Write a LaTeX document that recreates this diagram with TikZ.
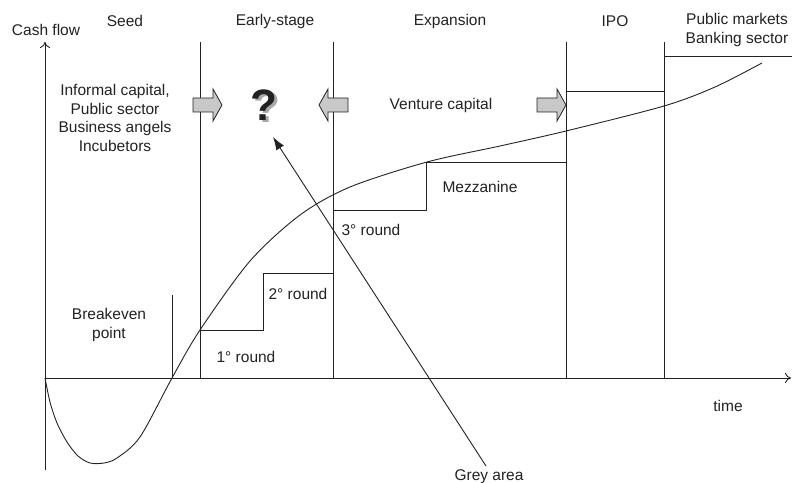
\documentclass[tikz,border=0pt]{standalone}
\usepackage{fontspec}
\setmainfont{Liberation Sans}
\usetikzlibrary{arrows.meta}
\definecolor{ink}{HTML}{222222}
\definecolor{blockgrey}{HTML}{C8C8C8}
\definecolor{shadowgrey}{HTML}{A8A8A8}
\begin{document}
\begin{tikzpicture}[x=1bp,y=-1bp,
  lbl/.style={text=ink,font=\fontsize{15.5bp}{18.5bp}\selectfont,inner sep=0pt,align=center},
  ln/.style={draw=ink,line width=0.9bp},
  blockarrow/.style={draw=ink,line width=0.8bp,fill=blockgrey},
  axisarrow/.style={ln,-{To[length=6bp,width=10bp]}}]
\useasboundingbox (0,0) rectangle (792,483);
% axes
\coordinate (origin) at (45,378);
\coordinate (ytop) at (45,42);
\coordinate (ybot) at (45,470);
\coordinate (xend) at (791,378);
\draw[axisarrow] (ybot) -- (ytop);
\draw[axisarrow] (origin) -- (xend);
% stage dividers
\foreach \n/\x in {a/200,b/333,c/566,d/664}{
  \coordinate (\n top) at (\x,42);
  \coordinate (\n bot) at (\x,378);
  \draw[ln] (\n top) -- (\n bot);
}
% breakeven marker
\coordinate (be top) at (172,295);
\coordinate (be bot) at (172,378);
\draw[ln] (be top) -- (be bot);
% funding steps
\draw[ln] (200,330) -- (263,330) -- (263,273) -- (333,273);
\draw[ln] (333,210) -- (426,210) -- (426,162) -- (566,162);
\draw[ln] (566,91) -- (664,91);
\draw[ln] (664,56) -- (792,56);
% cash flow curve
\draw[ln] plot[smooth,tension=0.5] coordinates {(45,378) (50,402) (57,423) (67,442) (78,456) (90,463) (104,463) (117,458) (140,437) (172,378) (200,330) (250,261) (300,215) (350,187) (427,162) (500,146) (566,131) (664,106) (715,87) (762,63)};
% block arrows
\draw[blockarrow] (193,98) -- (213,98) -- (213,89) -- (222,105) -- (213,121) -- (213,112) -- (193,112) -- cycle;
\draw[blockarrow] (348,98) -- (328,98) -- (328,89) -- (319,105) -- (328,121) -- (328,112) -- (348,112) -- cycle;
\draw[blockarrow] (537,98) -- (557,98) -- (557,89) -- (566,105) -- (557,121) -- (557,112) -- (537,112) -- cycle;
% question mark with shadow
\node (qm) [text=ink,font=\fontsize{44bp}{44bp}\selectfont\bfseries,inner sep=0pt] at (264,106)
  {\rlap{\kern2.5bp\raisebox{-2.5bp}{\color{shadowgrey}?}}?};
% labels
\node[lbl] (cash) at (46,30) {Cash flow};
\node[lbl] (seed) at (125,21) {Seed};
\node[lbl] (early) at (275,21) {Early-stage};
\node[lbl] (exp) at (450,21) {Expansion};
\node[lbl] (ipo) at (615,21) {IPO};
\node[lbl] (pub) at (737,30) {Public markets\\Banking sector};
\node[lbl] (informal) at (115,118) {Informal capital,\\Public sector\\Business angels\\Incubetors};
\node[lbl] (vc) at (441,105) {Venture capital};
\node[lbl] (mezz) at (480,187) {Mezzanine};
\node[lbl] (r3) at (371,230) {3° round};
\node[lbl] (r2) at (298,294) {2° round};
\node[lbl] (r1) at (246,357) {1° round};
\node[lbl] (be) at (109,325) {Breakeven\\point};
\node[lbl] (time) at (728,406) {time};
\node[lbl] (grey) at (489,477) {Grey area};
\coordinate (greytip) at (273,137);
\draw[ln,-{Latex[length=13bp,width=9bp]}] (486,466) -- (greytip);
\end{tikzpicture}
\end{document}
